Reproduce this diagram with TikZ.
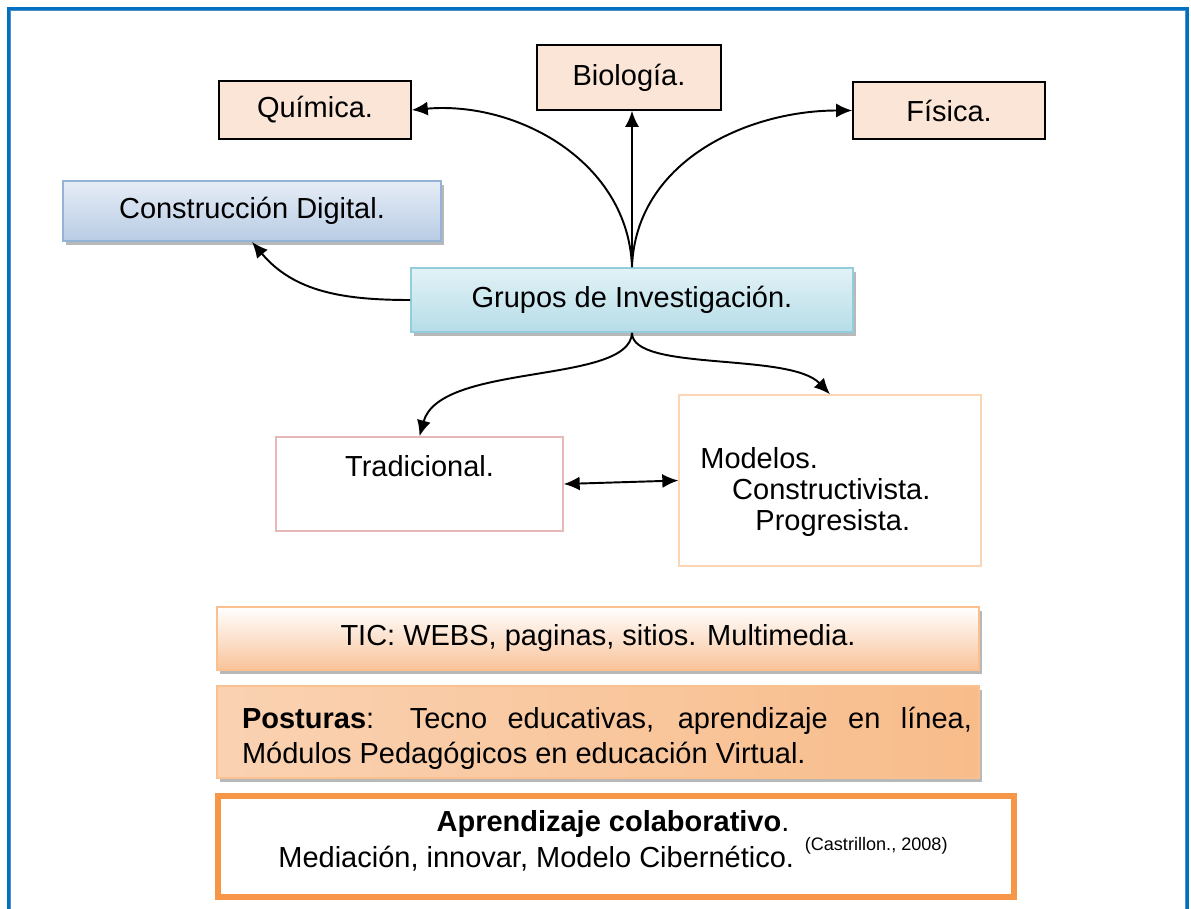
\documentclass[tikz,border=0pt]{standalone}
\usepackage{fontspec}
\setmainfont{Liberation Sans}
\usetikzlibrary{arrows.meta,shadows}

\definecolor{frameblue}{HTML}{0070C0}
\definecolor{framelight}{HTML}{4A90D0}
\definecolor{peach}{HTML}{FBE5D6}
\definecolor{cdtop}{HTML}{E6EDF6}
\definecolor{cdbottom}{HTML}{B8CCE4}
\definecolor{cdline}{HTML}{95B3D7}
\definecolor{grtop}{HTML}{E2F2F6}
\definecolor{grbottom}{HTML}{B6DDE8}
\definecolor{grline}{HTML}{92CDDC}
\definecolor{ticbottom}{HTML}{F9C39A}
\definecolor{ticline}{HTML}{FAC090}
\definecolor{posleft}{HTML}{FAD2B2}
\definecolor{posmid}{HTML}{FDE8D8}
\definecolor{posright}{HTML}{F8BC8A}
\definecolor{orangeline}{HTML}{F79646}
\definecolor{pinkline}{HTML}{E6B9B8}
\definecolor{lightpeach}{HTML}{FCD5B4}

\tikzset{
  txt/.style={font=\fontsize{16.5}{19.8}\selectfont},
  subject/.style={txt, draw=black, line width=0.9pt, fill=peach},
  boxshadow/.style={drop shadow={shadow xshift=0.06cm, shadow yshift=-0.08cm, fill=gray!70, opacity=0.8}},
  arr/.style={-{Latex[length=3.2mm,width=2.8mm]}, line width=1.1pt},
}

\begin{document}
\begin{tikzpicture}[x=0.02cm, y=-0.02cm]
        \useasboundingbox (0,0) rectangle (1191,909);
        \draw[frameblue, line width=1.5pt] (8.5,909) |- (1187.5,8.5) -- (1187.5,909);
        \draw[framelight, line width=0.4pt] (10.3,909) |- (1185.7,10.3) -- (1185.7,909);

        \node[subject, minimum width=3.84cm, minimum height=1.16cm] (quimica) at (315,110) {Química.};
        \node[subject, minimum width=3.68cm, minimum height=1.30cm] (biologia) at (629,77.5) {Biología.};
        \node[subject, minimum width=3.84cm, minimum height=1.14cm] (fisica) at (949,110.5) {Física.};

        \node[txt, boxshadow, draw=cdline, line width=1pt, top color=cdtop, bottom color=cdbottom,
              minimum width=7.56cm, minimum height=1.2cm] (construccion) at (252,211) {Construcción Digital.};
        \node[txt, boxshadow, draw=grline, line width=1pt, top color=grtop, bottom color=grbottom,
              minimum width=8.84cm, minimum height=1.28cm] (grupos) at (632,300) {Grupos de Investigación.};

        \node[draw=pinkline, line width=0.8pt, fill=white, minimum width=5.74cm, minimum height=1.88cm] (tradicional) at (419.5,484) {};
        \node[txt] (tradicionaltxt) at (419.5,466) {Tradicional.};
        \node[draw=lightpeach, line width=0.8pt, fill=white, minimum width=6.04cm, minimum height=3.42cm] (modelos) at (830,480.5) {};
        \node[txt, align=left, anchor=north west, inner sep=0pt] (modelostxt) at (700,447)
              {Modelos.\\[-2pt]\hspace*{1.1em}Constructivista.\\[-2pt]\hspace*{1.9em}Progresista.};

        \node[txt, boxshadow, draw=ticline, line width=1pt, top color=white, bottom color=ticbottom,
              minimum width=15.24cm, minimum height=1.26cm] (tic) at (598,638.5) {TIC: WEBS, paginas, sitios. Multimedia.};
        \node[boxshadow, draw=ticline, line width=1pt, left color=posleft, middle color=posmid, right color=posright,
              minimum width=15.24cm, minimum height=1.84cm] (posturas) at (598,732) {};
        \node[txt, text width=14.6cm, align=justify, inner sep=0pt] (posturastxt) at (607,738)
              {\textbf{Posturas}: Tecno educativas, aprendizaje en línea,\linebreak Módulos Pedagógicos en educación Virtual.};

        \node[draw=orangeline, line width=3.4pt, fill=white, minimum width=15.92cm, minimum height=2.02cm] (aprendizaje) at (616,846.5) {};
        \node[txt, align=center, inner sep=0pt] (aprendizajetxt) at (613,841)
              {\textbf{Aprendizaje colaborativo}.\\[-1pt]
               Mediación, innovar, Modelo Cibernético. \raisebox{1.1ex}{\fontsize{10.3}{12}\selectfont(Castrillon., 2008)}};

        \draw[arr] (grupos.north) to[out=92, in=5] (quimica.east);
        \draw[arr] (grupos.north) -- (grupos.north |- biologia.south);
        \draw[arr] (grupos.north) to[out=88, in=180] (fisica.west);
        \draw[arr] (grupos.west) to[out=180, in=-50] (construccion.south);
        \draw[arr] (grupos.south) .. controls (630,385) and (440,362) .. (tradicional.north);
        \draw[arr] (grupos.south) .. controls (632,372) and (790,352) .. (modelos.north);
        \draw[arr, {Latex[length=3.2mm,width=2.8mm]}-{Latex[length=3.2mm,width=2.8mm]}] (tradicional.east) -- (modelos.west);
    \end{tikzpicture}
\end{document}
